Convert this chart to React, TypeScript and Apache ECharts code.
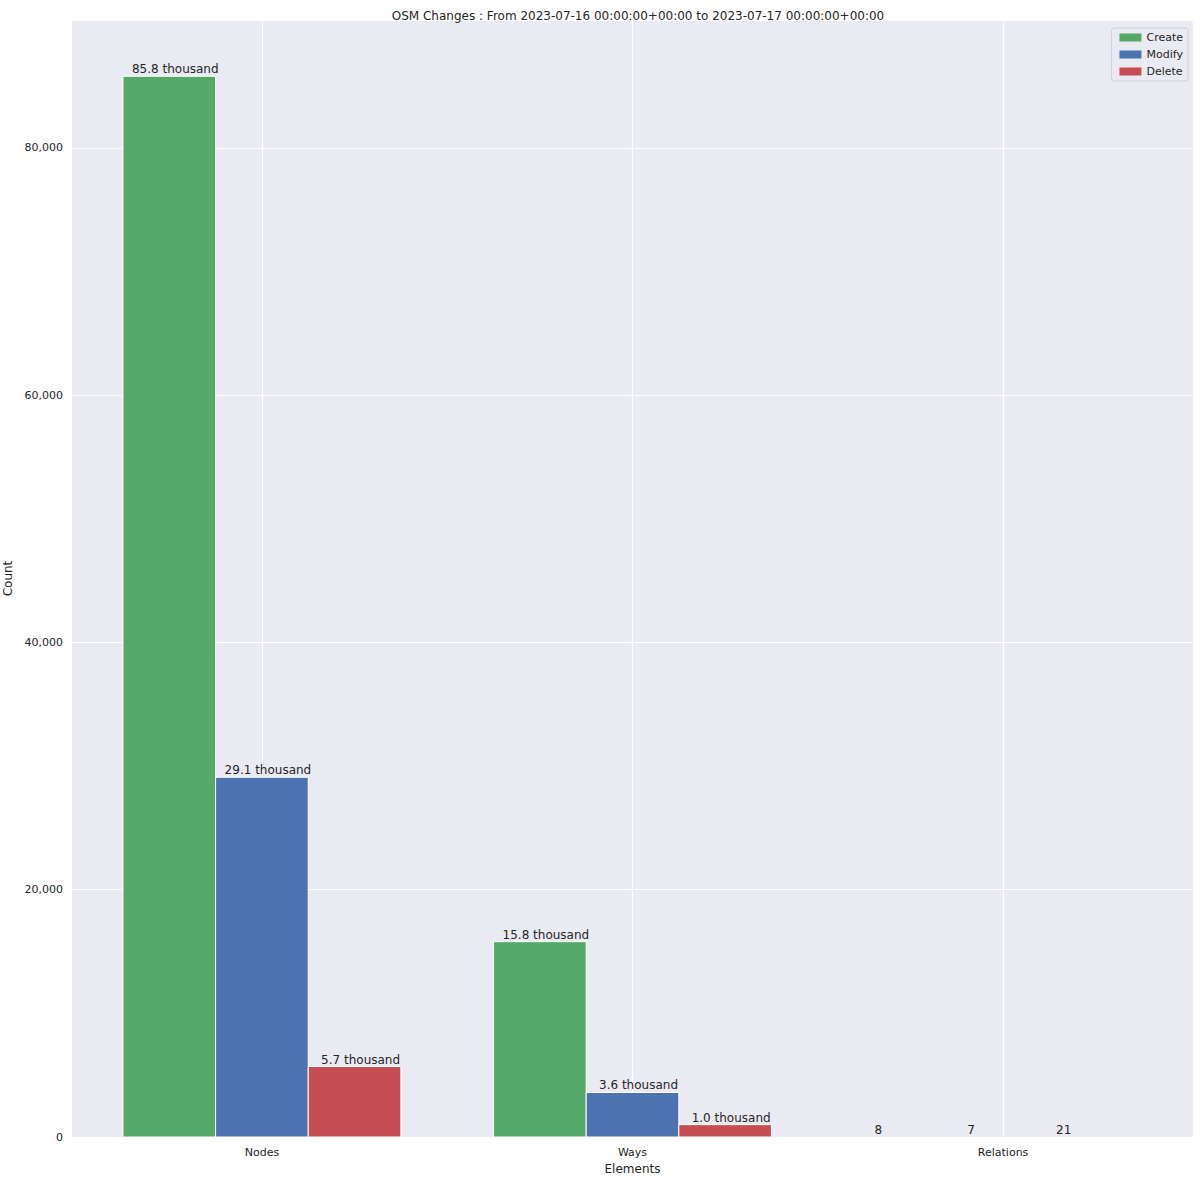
import React, { useEffect, useRef } from "react";
import * as echarts from "echarts";

const categories = ["Nodes", "Ways", "Relations"];
const actions = ["Create", "Modify", "Delete"];
const createValues = [85800, 15800, 8];
const modifyValues = [29100, 3600, 7];
const deleteValues = [5700, 1000, 21];
const yTicks = [0, 20000, 40000, 60000, 80000];
const colors = ["#55A868", "#4C72B0", "#C44E52"];

const FONT = "DejaVu Sans";

function fmtLabel(v: number) {
  if (v >= 1000) return (v / 1000).toFixed(1) + " thousand";
  return String(v);
}

export default function App() {
  const ref = useRef<HTMLDivElement>(null);
  useEffect(() => {
    const chart = echarts.init(ref.current!, null, { renderer: "svg" });
    const seriesValues = [createValues, modifyValues, deleteValues];
    const barW = 0.25;
    const series: any[] = actions.map((name, si) => ({
      name,
      type: "custom",
      itemStyle: { color: colors[si] },
      data: categories.map((c, ci) => [ci + (si - 1) * barW, seriesValues[si][ci]]),
      renderItem: (params: any, api: any) => {
        const x = api.value(0);
        const y = api.value(1);
        const p0 = api.coord([x - barW / 2, 0]);
        const p1 = api.coord([x + barW / 2, y]);
        const h = p0[1] - p1[1];
        const small = y < 1000;
        const children: any[] = [];
        if (h >= 1) {
          children.push({
            type: "rect",
            shape: { x: p0[0], y: p1[1], width: p1[0] - p0[0], height: h },
            style: { fill: colors[si], stroke: "#ffffff", lineWidth: 1 },
          });
        }
        children.push({
          type: "text",
          x: (p0[0] + p1[0]) / 2 + (small ? -32 : 6),
          y: p1[1] - 1,
          style: {
            text: fmtLabel(y),
            fill: "#262626",
            font: `12px '${FONT}'`,
            align: "center",
            verticalAlign: "bottom",
          },
        });
        return { type: "group", children };
      },
    }));
    series.push({
      type: "line",
      data: [],
      silent: true,
      markLine: {
        silent: true,
        symbol: "none",
        label: { show: false },
        lineStyle: { color: "#ffffff", width: 1.2, type: "solid" },
        data: categories.map((c, i) => ({ xAxis: i })),
        z: 0,
      },
      z: 0,
    });
    chart.setOption({
      animation: false,
      backgroundColor: "#ffffff",
      title: {
        text: "OSM Changes : From 2023-07-16 00:00:00+00:00 to 2023-07-17 00:00:00+00:00",
        left: 633,
        textAlign: "center",
        top: 5,
        textStyle: { fontFamily: FONT, fontSize: 12, fontWeight: "normal", color: "#262626" },
      },
      legend: {
        data: actions,
        orient: "vertical",
        right: 12,
        top: 28,
        itemWidth: 22,
        itemHeight: 8,
        itemGap: 6,
        icon: "rect",
        backgroundColor: "#EAEAF2",
        borderColor: "#cfcfd6",
        borderWidth: 1,
        borderRadius: 3,
        padding: [4, 5, 4, 8],
        textStyle: { fontFamily: FONT, fontSize: 11, color: "#262626" },
      },
      grid: {
        left: 72,
        right: 7,
        top: 20,
        bottom: 45,
        show: true,
        backgroundColor: "#EAEAF2",
        borderWidth: 0,
        containLabel: false,
        outerBoundsMode: "none",
      },
      xAxis: {
        type: "value",
        min: -0.5125,
        max: 2.5125,
        name: "Elements",
        nameLocation: "middle",
        nameGap: 24,
        nameTextStyle: { fontFamily: FONT, fontSize: 12, color: "#262626" },
        axisLine: { show: false },
        axisTick: { show: false },
        splitLine: { show: false },
        axisLabel: {
          customValues: [0, 1, 2],
          formatter: (v: number) => categories[Math.round(v)] ?? "",
          fontFamily: FONT,
          fontSize: 11,
          color: "#262626",
          margin: 10,
        },
      },
      yAxis: {
        type: "value",
        min: 0,
        max: 90350,
        interval: 20000,
        name: "Count",
        nameLocation: "middle",
        nameGap: 50,
        nameTextStyle: { fontFamily: FONT, fontSize: 12, color: "#262626" },
        axisLine: { show: false },
        axisTick: { show: false },
        splitLine: { show: true, lineStyle: { color: "#ffffff", width: 1.2 } },
        axisLabel: {
          fontFamily: FONT,
          fontSize: 11,
          color: "#262626",
          margin: 9,
          customValues: yTicks,
          formatter: (v: number) => v.toLocaleString("en-US"),
        },
      },
      series,
    });
    return () => chart.dispose();
  }, []);
  return (
    <div
      ref={ref}
      style={{ position: "absolute", left: 0, top: 0, width: 1200, height: 1182 }}
    />
  );
}
